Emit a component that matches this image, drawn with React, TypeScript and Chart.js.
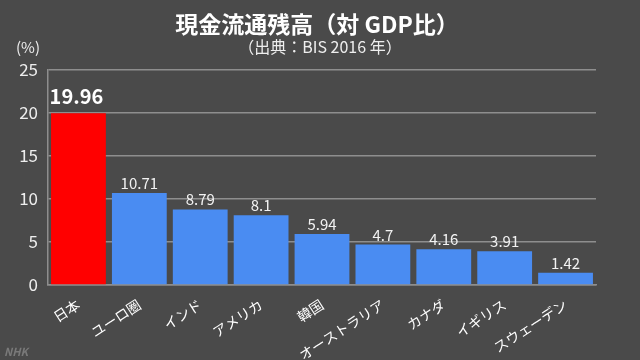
import React, { useEffect, useRef } from "react";
import { Chart, registerables } from "chart.js";

Chart.register(...registerables);

const categories = ["日本", "ユーロ圏", "インド", "アメリカ", "韓国", "オーストラリア", "カナダ", "イギリス", "スウェーデン"];
const values = [19.96, 10.71, 8.79, 8.1, 5.94, 4.7, 4.16, 3.91, 1.42];
const valueLabels = ["19.96", "10.71", "8.79", "8.1", "5.94", "4.7", "4.16", "3.91", "1.42"];
const barColors = ["#ff0000", "#4a8cf2", "#4a8cf2", "#4a8cf2", "#4a8cf2", "#4a8cf2", "#4a8cf2", "#4a8cf2", "#4a8cf2"];
const yTicks = [0, 5, 10, 15, 20, 25];
const titleText = "現金流通残高（対 GDP比）";
const subtitleText = "（出典：BIS 2016 年）";
const unitText = "(%)";

const FONT = "'Noto Sans CJK JP', 'Noto Sans', sans-serif";
const BG = "#4a4a4a";
const GRID = "#8e8e8e";

const overlayPlugin = {
  id: "overlay",
  beforeDraw(chart: any) {
    const { ctx, width, height } = chart;
    ctx.save();
    ctx.fillStyle = BG;
    ctx.fillRect(0, 0, width, height);
    ctx.restore();
  },
  afterDatasetsDraw(chart: any) {
    const { ctx } = chart;
    const meta = chart.getDatasetMeta(0);
    ctx.save();
    ctx.textAlign = "center";
    ctx.textBaseline = "alphabetic";
    meta.data.forEach((bar: any, i: number) => {
      if (i === 0) {
        ctx.font = `bold 20px ${FONT}`;
        ctx.fillStyle = "#ffffff";
        ctx.fillText(valueLabels[i], bar.x - 2, bar.y - 9);
      } else {
        ctx.font = `15px ${FONT}`;
        ctx.fillStyle = "#f2f2f2";
        ctx.fillText(valueLabels[i], bar.x, bar.y - 4);
      }
    });
    // title
    ctx.fillStyle = "#ffffff";
    ctx.textBaseline = "middle";
    ctx.font = `bold 23px ${FONT}`;
    ctx.fillText(titleText, 317, 24);
    ctx.font = `16px ${FONT}`;
    ctx.fillStyle = "#eeeeee";
    ctx.fillText(subtitleText, 320, 47);
    ctx.font = `15px ${FONT}`;
    ctx.fillText(unitText, 28, 47);
    // logo
    ctx.font = `italic bold 11px ${FONT}`;
    ctx.fillStyle = "#7a7a7a";
    ctx.textAlign = "left";
    ctx.fillText("NHK", 4, 352);
    ctx.restore();
  },
};

export default function App() {
  const ref = useRef<HTMLCanvasElement>(null);
  useEffect(() => {
    if (!ref.current) return;
    const chart = new Chart(ref.current, {
      type: "bar",
      data: {
        labels: categories,
        datasets: [
          {
            data: values,
            backgroundColor: barColors,
            borderWidth: 0,
            barPercentage: 0.9,
            categoryPercentage: 1.0,
          },
        ],
      },
      options: {
        animation: false,
        responsive: false,
        layout: { padding: { top: 70, right: 44, left: 0, bottom: 0 } },
        plugins: { legend: { display: false }, tooltip: { enabled: false }, title: { display: false } },
        scales: {
          x: {
            grid: { display: false },
            border: { display: true, color: GRID, width: 1.5 },
            ticks: {
              color: "#ffffff",
              font: { family: FONT, size: 14 },
              maxRotation: 33,
              minRotation: 33,
              padding: 3,
            },
            afterFit(scale: any) {
              scale.height = 75;
            },
          },
          y: {
            min: 0,
            max: 25,
            afterBuildTicks(scale: any) {
              scale.ticks = yTicks.map((v) => ({ value: v }));
            },
            grid: { color: GRID, lineWidth: 1.5, drawTicks: false },
            border: { display: true, color: GRID, width: 1.5 },
            ticks: {
              color: "#eeeeee",
              font: { family: FONT, size: 17 },
              padding: 10,
            },
            afterFit(scale: any) {
              scale.width = 48;
            },
          },
        },
      },
      plugins: [overlayPlugin],
    });
    return () => chart.destroy();
  }, []);
  return (
    <div style={{ position: "fixed", left: 0, top: 0, width: 640, height: 360, background: BG }}>
      <canvas ref={ref} width={640} height={360} style={{ display: "block" }} />
    </div>
  );
}
